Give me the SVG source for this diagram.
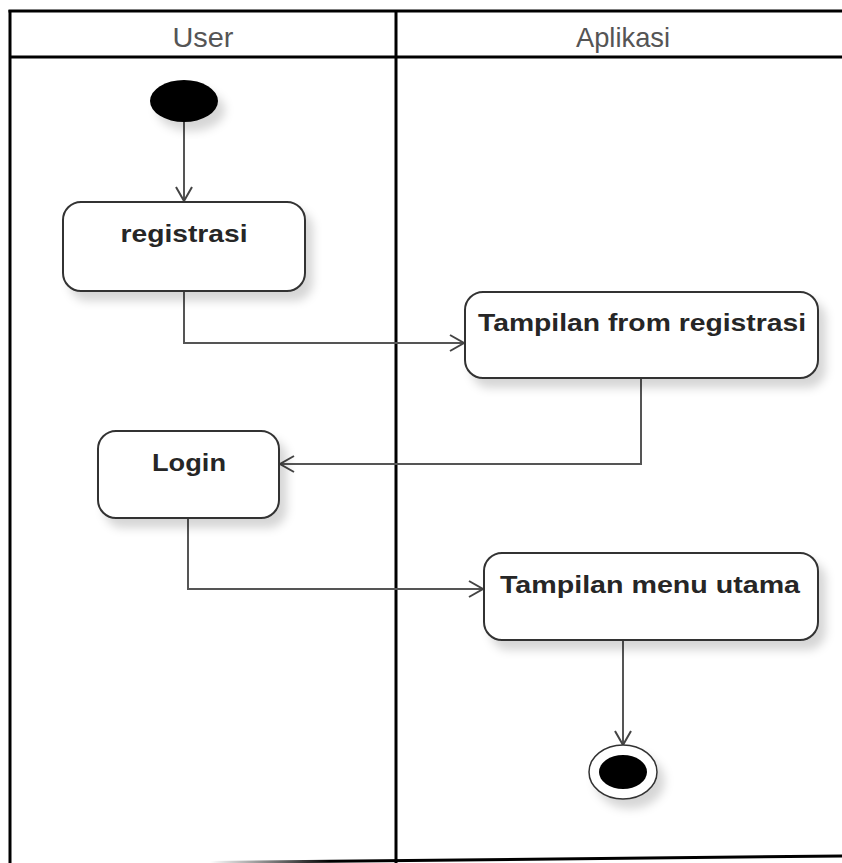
<svg xmlns="http://www.w3.org/2000/svg" width="842" height="863" viewBox="0 0 842 863">
  <style>
    .lane { fill: none; stroke: #000; stroke-width: 3; }
    .head { font-family: "Liberation Sans", Arial, sans-serif; font-size: 28px; fill: #555; text-anchor: middle; }
    .act { fill: #fff; stroke: #333; stroke-width: 2; filter: url(#shadow); }
    .label { font-family: "Liberation Sans", Arial, sans-serif; font-size: 24px; font-weight: bold; fill: #262626; text-anchor: middle; }
    .flow { fill: none; stroke: #555; stroke-width: 2; marker-end: url(#open); }
  </style>
  <defs>
    <filter id="shadow" x="-20%" y="-20%" width="150%" height="160%">
      <feDropShadow dx="7" dy="9" stdDeviation="5" flood-color="#000" flood-opacity="0.16"/>
    </filter>
    <marker id="open" markerUnits="userSpaceOnUse" markerWidth="18" markerHeight="20" refX="15" refY="9" orient="auto">
      <path d="M1,1 L15,9 L1,17" fill="none" stroke="#444" stroke-width="2"/>
    </marker>
    <linearGradient id="baseFade" x1="210" y1="0" x2="330" y2="0" gradientUnits="userSpaceOnUse">
      <stop offset="0" stop-color="#000" stop-opacity="0"/>
      <stop offset="1" stop-color="#000" stop-opacity="1"/>
    </linearGradient>
  </defs>

  <rect width="842" height="863" fill="#fff"/>

  <!-- swimlane frame -->
  <g id="swimlanes">
    <line class="lane" x1="8.5" y1="11" x2="842" y2="11"/>
    <line class="lane" x1="10" y1="10" x2="10" y2="863"/>
    <line class="lane" x1="10" y1="57" x2="842" y2="57"/>
    <line class="lane" x1="396" y1="10" x2="396" y2="863"/>
    <line x1="210" y1="862.5" x2="842" y2="856" stroke="url(#baseFade)" stroke-width="3"/>
    <text class="head" x="203" y="47" textLength="61" lengthAdjust="spacingAndGlyphs">User</text>
    <text class="head" x="623" y="47" textLength="94" lengthAdjust="spacingAndGlyphs">Aplikasi</text>
  </g>

  <!-- control flows -->
  <g id="connectors">
    <path class="flow" d="M184,122 V201"/>
    <path class="flow" d="M184,291 V343 H464"/>
    <path class="flow" d="M641,378 V464 H280"/>
    <path class="flow" d="M188,518 V589 H483"/>
    <path class="flow" d="M623,640 V745"/>
  </g>

  <g id="start">
    <ellipse cx="184" cy="101" rx="34" ry="21" fill="#000" filter="url(#shadow)"/>
  </g>

  <g id="registrasi">
    <rect class="act" x="63" y="202" width="242" height="89" rx="18"/>
    <text class="label" x="184" y="242" textLength="127" lengthAdjust="spacingAndGlyphs">registrasi</text>
  </g>

  <g id="tampilan-form">
    <rect class="act" x="465" y="292" width="353" height="86" rx="18"/>
    <text class="label" x="642" y="331" textLength="328" lengthAdjust="spacingAndGlyphs">Tampilan from registrasi</text>
  </g>

  <g id="login">
    <rect class="act" x="98" y="431" width="181" height="87" rx="18"/>
    <text class="label" x="189" y="471" textLength="74" lengthAdjust="spacingAndGlyphs">Login</text>
  </g>

  <g id="menu-utama">
    <rect class="act" x="484" y="553" width="334" height="87" rx="18"/>
    <text class="label" x="650" y="593" textLength="300" lengthAdjust="spacingAndGlyphs">Tampilan menu utama</text>
  </g>

  <g id="end">
    <ellipse cx="623" cy="772" rx="34" ry="27" fill="#fff" stroke="#333" stroke-width="1.5" filter="url(#shadow)"/>
    <ellipse cx="623" cy="772" rx="24" ry="17" fill="#000"/>
  </g>
</svg>
